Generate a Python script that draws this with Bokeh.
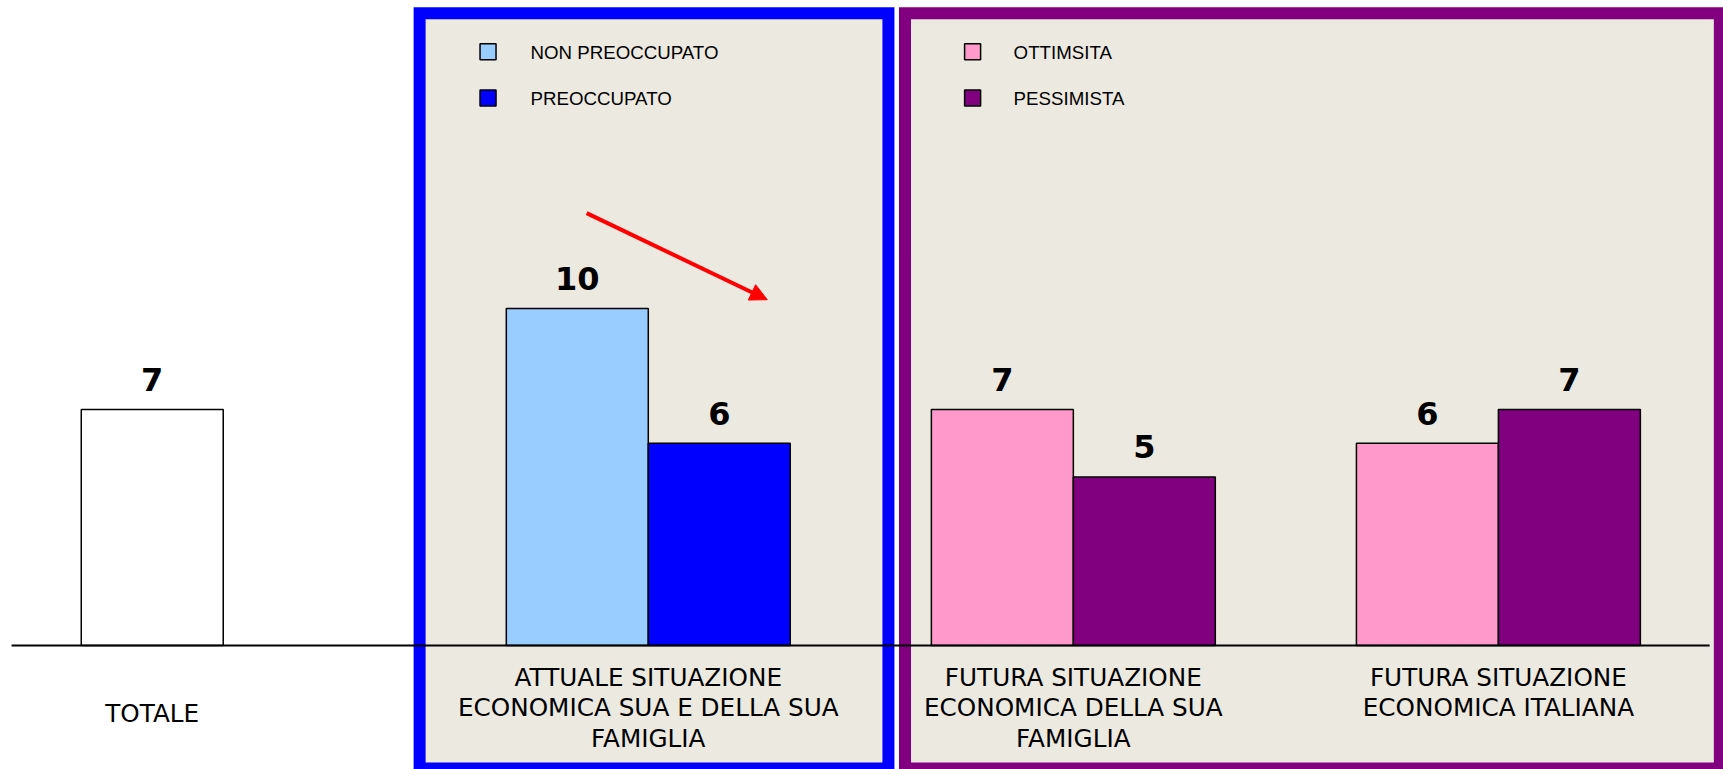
from bokeh.plotting import figure
from bokeh.models import Range1d, ColumnDataSource, Arrow, NormalHead
from bokeh.core.properties import value
from bokeh.embed import file_html
from bokeh.resources import INLINE

# ---------------- data ----------------
categories = [
    "TOTALE",
    "ATTUALE SITUAZIONE\nECONOMICA SUA E DELLA SUA\nFAMIGLIA",
    "FUTURA SITUAZIONE\nECONOMICA DELLA SUA\nFAMIGLIA",
    "FUTURA SITUAZIONE\nECONOMICA ITALIANA",
]
totale_values = [7]
worry_series = ["NON PREOCCUPATO", "PREOCCUPATO"]
worry_values = [10, 6]
outlook_series = ["OTTIMSITA", "PESSIMISTA"]
ottimista_values = [7, 6]      # FUTURA fam., FUTURA italiana
pessimista_values = [5, 7]

# ---------------- styles ----------------
BG_PANEL = "#ECE9E0"
C_TOT = "white"
C_NONPRE = "#99CCFF"
C_PRE = "#0000FF"
C_OTT = "#FF99CC"
C_PES = "#800080"
BAR_W = 0.334
OFF = BAR_W / 2

p = figure(width=1723, height=769, x_range=Range1d(-0.524, 3.5296),
           y_range=Range1d(-3.68, 19.139), x_axis_type=None, y_axis_type=None,
           toolbar_location=None, output_backend="svg", min_border=0,
           outline_line_color=None, background_fill_color="white",
           border_fill_color="white")
p.grid.visible = False

# panels (blue around category 1, purple around categories 2-3)
p.quad(left=[1 - 0.538, 2 - 0.396], right=[1 + 0.565, 3 + 0.521],
       top=[18.76, 18.76], bottom=[-3.65, -3.65], fill_color=BG_PANEL,
       line_color=[C_PRE, C_PES], line_width=12, line_join="miter")

# bars
xs, tops, cols = [], [], []
xs.append(0 - OFF); tops.append(totale_values[0]); cols.append(C_TOT)
xs += [1 - OFF, 1 + OFF]; tops += worry_values; cols += [C_NONPRE, C_PRE]
for i, (o, ps) in enumerate(zip(ottimista_values, pessimista_values)):
    xs += [2 + i - OFF, 2 + i + OFF]; tops += [o, ps]; cols += [C_OTT, C_PES]
src = ColumnDataSource(dict(x=xs, top=tops, color=cols, label=[str(t) for t in tops]))
p.vbar(x="x", top="top", bottom=0, width=BAR_W, fill_color="color",
       line_color="black", line_width=1.5, source=src)
p.text(x="x", y="top", text="label", source=src, text_font=value("DejaVu Sans"),
       text_font_style="bold", text_font_size="32px", text_align="center",
       text_baseline="alphabetic", y_offset=-30, text_color="black")

# baseline
p.segment(x0=[-0.498], y0=[0], x1=[3.497], y1=[0], line_color="black", line_width=2)

# category labels
lx, ly, lt, lo = [], [], [], []
for i, cat in enumerate(categories):
    lines = cat.split("\n")
    cx = i - OFF if i == 0 else i
    if len(lines) == 1:
        lx.append(cx); ly.append(0); lt.append(lines[0]); lo.append(68)
    else:
        for k, ln in enumerate(lines):
            lx.append(cx); ly.append(0); lt.append(ln); lo.append(32 + 30.5 * k)
lsrc = ColumnDataSource(dict(x=lx, y=ly, text=lt, yo=lo))
p.text(x="x", y="y", text="text", y_offset="yo", source=lsrc,
       text_font=value("DejaVu Sans"), text_font_size="24.7px",
       text_align="center", text_baseline="alphabetic", text_color="black")

# legends
leg_names = worry_series + outlook_series
leg_cols = [C_NONPRE, C_PRE, C_OTT, C_PES]
sq_x = [0.623, 0.623, 1.763, 1.763]
sq_y = [17.617, 16.246, 17.617, 16.246]
tx_x = [0.723, 0.723, 1.8595, 1.8595]
tx_y = [17.596, 16.24, 17.596, 16.24]
p.scatter(x=sq_x, y=sq_y, marker="square", size=16, fill_color=leg_cols,
          line_color="black", line_width=1.5)
p.text(x=tx_x, y=tx_y, text=leg_names, text_font=value("Liberation Sans"),
       text_font_size="18.7px", text_baseline="alphabetic", text_align="left",
       text_color="black")

# red arrow
p.add_layout(Arrow(end=NormalHead(size=17, fill_color="red", line_color="red"),
                   x_start=0.855, y_start=12.83, x_end=1.280, y_end=10.26,
                   line_color="red", line_width=4))

open("out.html", "w").write(file_html(p, INLINE))
